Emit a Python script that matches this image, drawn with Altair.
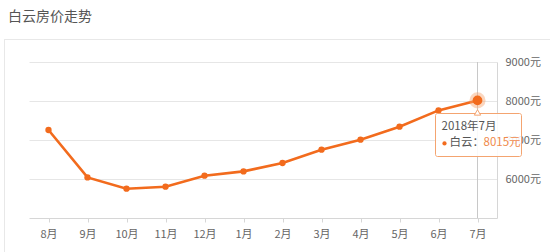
import altair as alt
import pandas as pd

months = ["8月", "9月", "10月", "11月", "12月", "1月", "2月", "3月", "4月", "5月", "6月", "7月"]
prices = [7256, 6041, 5751, 5803, 6085, 6195, 6410, 6751, 7008, 7341, 7759, 8015]
y_ticks = [6000, 7000, 8000, 9000]
title_text = "白云房价走势"
tip_date = "2018年7月"
tip_name = "白云："
tip_value = "8015元"

df = pd.DataFrame({"month": months, "price": prices})
last = df.tail(1)

FONT = "Noto Sans CJK SC"
ORANGE = "#f26b1d"

XSCALE = alt.Scale(type="point", padding=0.5, domain=months)
YSCALE = alt.Scale(domain=[5000, 9000], nice=False, zero=False)
XAXIS = alt.Axis(title=None, labelAngle=0, labelAlign="center", grid=False,
                 domainColor="#d6d6d6", tickColor="#d6d6d6", tickSize=4,
                 labelColor="#666666", labelFontSize=11, labelFont=FONT,
                 labelPadding=6)
YAXIS = alt.Axis(title=None, orient="right", values=y_ticks, grid=True,
                 gridColor="#e6e6e6", domain=True, domainColor="#d6d6d6",
                 ticks=False, labelColor="#666666", labelFontSize=11,
                 labelFont=FONT, labelPadding=8,
                 labelExpr="datum.value + '元'")

xs = alt.X("month:N", sort=months, scale=XSCALE, axis=XAXIS)
ys = alt.Y("price:Q", scale=YSCALE, axis=YAXIS)

base = alt.Chart(df)

# card frame & title (decoration)
frame_top = base.mark_rule(color="#e8e8e8", strokeWidth=1).encode(
    x=alt.value(-24.5), x2=alt.value(560), y=alt.value(-22.5))
frame_left = base.mark_rule(color="#e8e8e8", strokeWidth=1).encode(
    x=alt.value(-24.5), y=alt.value(-22.5), y2=alt.value(200))
title = alt.Chart(pd.DataFrame({"t": [title_text]})).mark_text(
    align="left", baseline="middle", fontSize=14, font=FONT, color="#555555"
).encode(text="t:N", x=alt.value(-21), y=alt.value(-45))

cross = alt.Chart(last).mark_rule(color="#c8c8c8", strokeWidth=1).encode(
    x=xs, y=alt.value(0), y2=alt.value(156))

line = base.mark_line(color=ORANGE, strokeWidth=2.6).encode(x=xs, y=ys)
pts = base.mark_circle(color=ORANGE, opacity=1, size=40).encode(x=xs, y=ys)
halo = alt.Chart(last).mark_circle(color="#f7a36f", opacity=0.45, size=260).encode(x=xs, y=ys)
big = alt.Chart(last).mark_circle(color=ORANGE, opacity=1, size=95).encode(x=xs, y=ys)

tip_box = alt.Chart(last).mark_rect(fill="white", fillOpacity=0.88, stroke="#f4a470",
                                    strokeWidth=1, cornerRadius=2).encode(
    x=alt.value(406.5), x2=alt.value(492.5), y=alt.value(51.5), y2=alt.value(94.5))
notch = alt.Chart(last).mark_point(shape="triangle-up", filled=True, fill="white",
                                   stroke="#f4a470", strokeWidth=1, size=40, opacity=1,
                                   yOffset=12).encode(x=xs, y=ys)
t1 = alt.Chart(last).mark_text(align="left", baseline="middle", fontSize=11.5, font=FONT,
                               color="#555555", dx=-36, dy=27).encode(
    x=xs, y=ys, text=alt.value(tip_date))
tdot = alt.Chart(last).mark_circle(color=ORANGE, opacity=1, size=18, xOffset=-33,
                                   yOffset=43).encode(x=xs, y=ys)
t2 = alt.Chart(last).mark_text(align="left", baseline="middle", fontSize=11.5, font=FONT,
                               color="#555555", dx=-28, dy=43).encode(
    x=xs, y=ys, text=alt.value(tip_name))
t3 = alt.Chart(last).mark_text(align="left", baseline="middle", fontSize=11.5, font=FONT,
                               color="#f08a4b", dx=6, dy=43).encode(
    x=xs, y=ys, text=alt.value(tip_value))

chart = alt.layer(frame_top, frame_left, title, cross, line, pts, halo, big,
                  tip_box, notch, t1, tdot, t2, t3).properties(
    width=468, height=156,
    background="white",
    autosize=alt.AutoSizeParams(type="none"),
    padding={"left": 29, "top": 62, "right": 53, "bottom": 34},
).configure_view(strokeOpacity=0, strokeWidth=0)

chart.save("out.html", embed_options={"renderer": "svg", "actions": False})
